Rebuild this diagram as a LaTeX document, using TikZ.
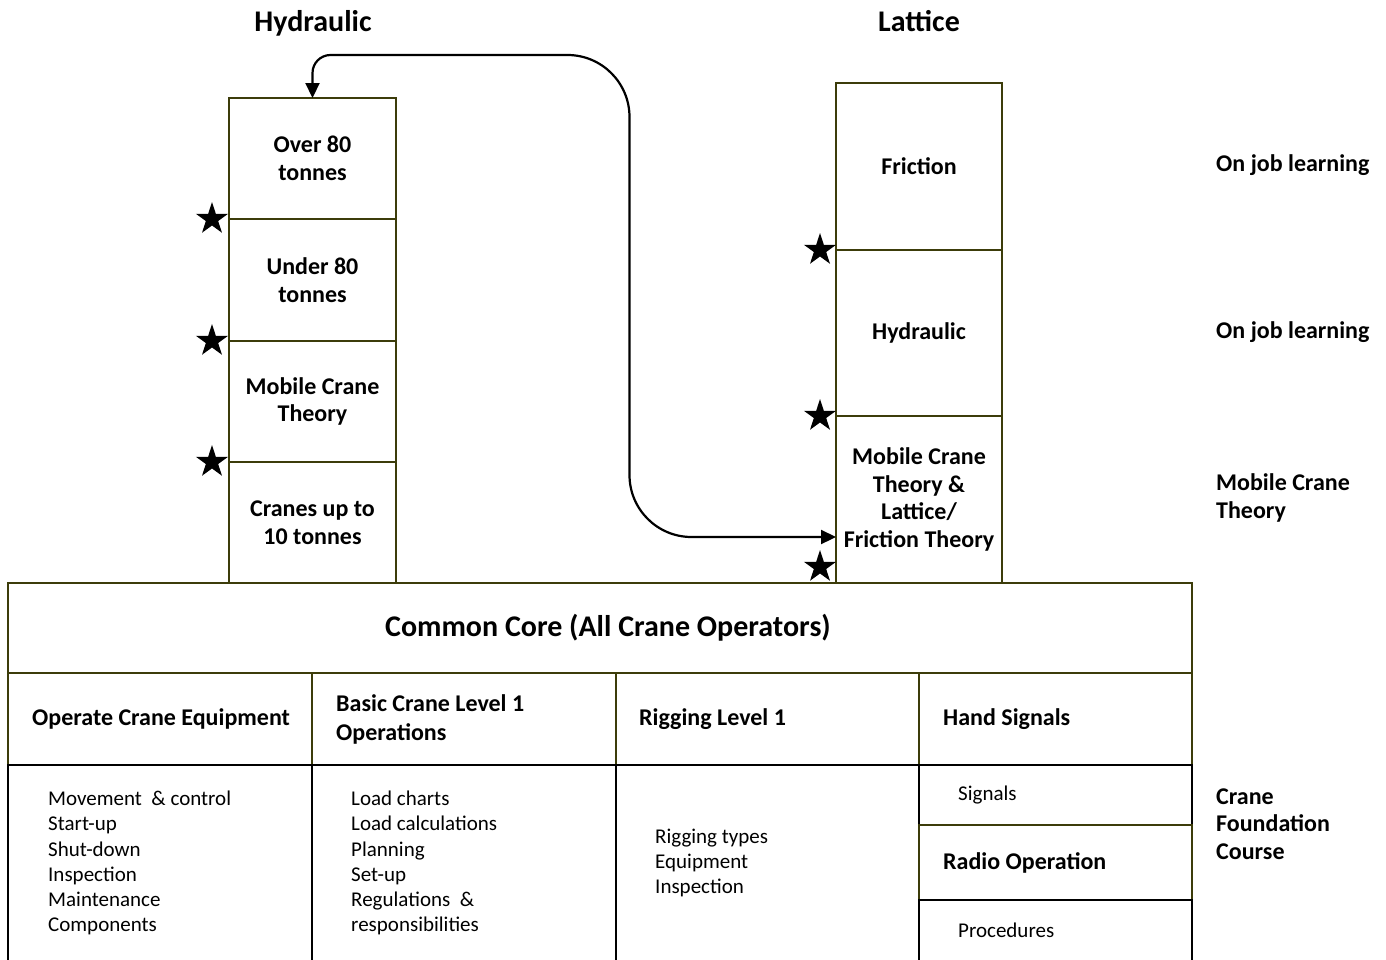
\documentclass[tikz,border=0pt]{standalone}
\usepackage{fontspec}
\setmainfont{Carlito}
\usetikzlibrary{shapes.geometric,arrows.meta,calc}
\definecolor{boxline}{RGB}{60,60,10}
\tikzset{
  title/.style={anchor=base, font=\bfseries\fontsize{30}{34}\selectfont},
  stage/.style={draw=boxline, line width=2.5pt, anchor=north west, inner sep=0pt,
    outer sep=0pt, align=center, font=\bfseries\fontsize{24}{27.5}\selectfont},
  head/.style={draw=boxline, line width=2.5pt, anchor=north west, inner sep=0pt,
    outer sep=0pt, minimum height=92pt},
  cell/.style={draw=black, line width=2pt, anchor=north west, inner sep=0pt,
    outer sep=0pt},
  headtext/.style={anchor=west, inner sep=0pt, align=left,
    font=\bfseries\fontsize{24}{29}\selectfont},
  listtext/.style={anchor=west, inner sep=0pt, align=left,
    font=\fontsize{21}{25.2}\selectfont},
  side/.style={anchor=west, inner sep=0pt, align=left,
    font=\bfseries\fontsize{24}{27.5}\selectfont},
  marker/.style={star, star points=5, star point ratio=2.618, fill=black,
    inner sep=0pt, minimum size=34pt},
  link/.style={line width=2.2pt,
    {Triangle[length=15pt,width=14pt]}-{Triangle[length=15pt,width=14pt]}}
}
\begin{document}
\begin{tikzpicture}[x=1pt,y=-1pt]
  \useasboundingbox (0,0) rectangle (1386,959);
  \clip (0,0) rectangle (1386,959);
  % titles
  \node (hyd) at (313,31) [title] {Hydraulic};
  \node (lat) at (919,31) [title] {Lattice};
  % hydraulic stack
  \node (over) at (229,98) [stage, minimum width=167pt, minimum height=121pt] {Over 80\\tonnes};
  \node (under) at (229,219) [stage, minimum width=167pt, minimum height=122pt] {Under 80\\tonnes};
  \node (mct) at (229,341) [stage, minimum width=167pt, minimum height=121pt] {Mobile Crane\\Theory};
  \node (small) at (229,462) [stage, minimum width=167pt, minimum height=121pt] {Cranes up to\\10 tonnes};
  % lattice stack
  \node (fric) at (836,83) [stage, minimum width=166pt, minimum height=167pt] {Friction};
  \node (hydr) at (836,250) [stage, minimum width=166pt, minimum height=166pt] {Hydraulic};
  \node (ltheory) at (836,416) [stage, minimum width=166pt, minimum height=167pt]
    {Mobile Crane\\Theory \&\\Lattice/\\Friction Theory};
  % common core
  \node (core) at (8,583) [stage, minimum width=1184pt, minimum height=90pt,
    font=\bfseries\fontsize{30}{34}\selectfont] {\hspace*{16pt}Common Core (All Crane Operators)};
  % unit headings
  \node (h1) at (8,673) [head, minimum width=304pt] {};
  \node (h2) at (312,673) [head, minimum width=304pt] {};
  \node (h3) at (616,673) [head, minimum width=303pt] {};
  \node (h4) at (919,673) [head, minimum width=273pt] {};
  \node (h1t) at ($(h1.west)+(24,0)$) [headtext] {Operate Crane Equipment};
  \node (h2t) at ($(h2.west)+(24,0)$) [headtext] {Basic Crane Level 1\\Operations};
  \node (h3t) at ($(h3.west)+(23,0)$) [headtext] {Rigging Level 1};
  \node (h4t) at ($(h4.west)+(24,0)$) [headtext] {Hand Signals};
  % unit contents
  \node (b1) at (8,765) [cell, minimum width=304pt, minimum height=196pt] {};
  \node (b2) at (312,765) [cell, minimum width=304pt, minimum height=196pt] {};
  \node (b3) at (616,765) [cell, minimum width=303pt, minimum height=196pt] {};
  \node (b4) at (919,765) [cell, minimum width=273pt, minimum height=60pt] {};
  \node (radio) at (919,825) [head, minimum width=273pt, minimum height=75pt] {};
  \node (b5) at (919,900) [cell, minimum width=273pt, minimum height=61pt] {};
  \node (b1t) at ($(b1.west)+(40,0)$) [listtext]
    {Movement \ \& control\\Start-up\\Shut-down\\Inspection\\Maintenance\\Components};
  \node (b2t) at ($(b2.west)+(39,0)$) [listtext]
    {Load charts\\Load calculations\\Planning\\Set-up\\Regulations \ \&\\responsibilities};
  \node (b3t) at ($(b3.west)+(39,0)$) [listtext] {Rigging types\\Equipment\\Inspection};
  \node (b4t) at ($(b4.west)+(39,0)$) [listtext] {Signals};
  \node (radiot) at ($(radio.west)+(24,0)$) [headtext] {Radio Operation};
  \node (b5t) at ($(b5.west)+(39,0)$) [listtext] {Procedures};
  % levels on the right
  \node (r1) at (1216,165) [side] {On job learning};
  \node (r2) at (1216,332) [side] {On job learning};
  \node (r3) at (1216,498) [side] {Mobile Crane\\Theory};
  \node (r4) at (1216,824) [side] {Crane\\Foundation\\Course};
  % stars
  \node (s1) at ($(under.north west)+(-17,0)$) [marker] {};
  \node (s2) at ($(mct.north west)+(-17,0)$) [marker] {};
  \node (s3) at ($(small.north west)+(-17,0)$) [marker] {};
  \node (s4) at ($(hydr.north west)+(-16,0)$) [marker] {};
  \node (s5) at ($(ltheory.north west)+(-16,0)$) [marker] {};
  \node (s6) at ($(ltheory.south west)+(-16,-16)$) [marker] {};
  % pathway between the two streams
  \coordinate (entry) at ($(ltheory.south west)+(0,-46)$);
  \draw[link] (over.north) [rounded corners=18pt] -- ++(0,-43)
    [rounded corners=62pt] -- ++(317,0) |- (entry);
\end{tikzpicture}
\end{document}
